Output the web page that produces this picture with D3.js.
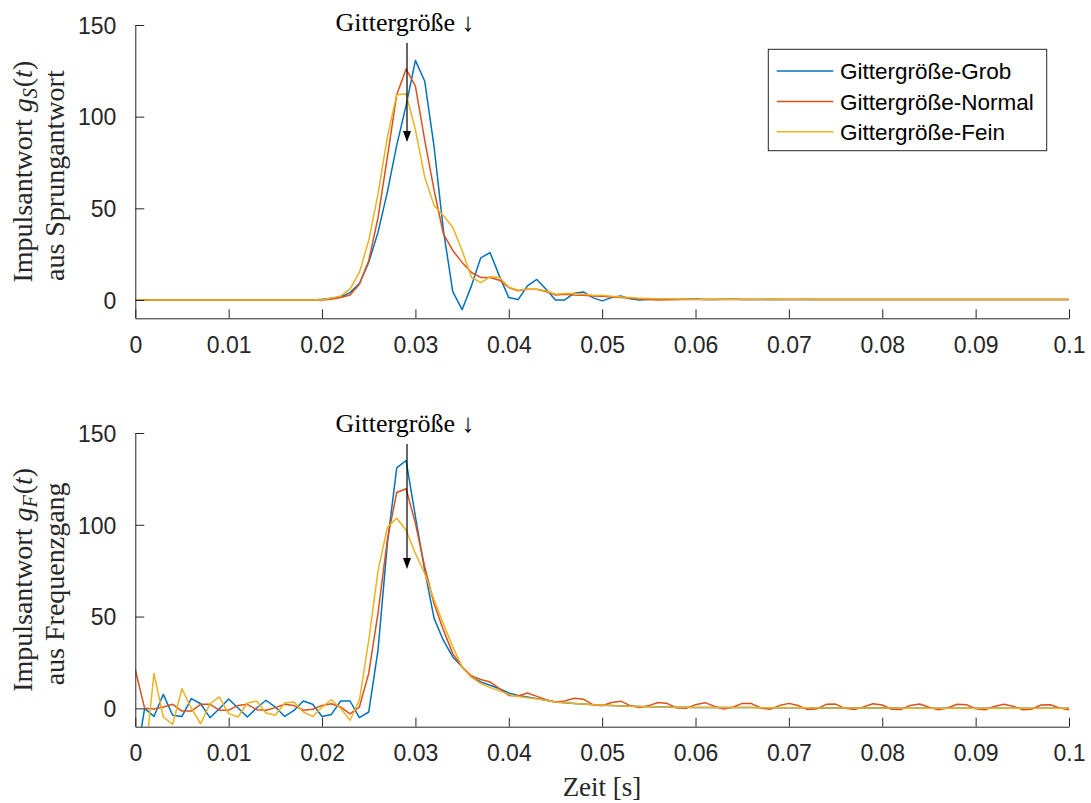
<!DOCTYPE html>
<html>
<head>
<meta charset="utf-8">
<script src="https://cdn.jsdelivr.net/npm/d3@7"></script>
<style>
  html, body { margin: 0; padding: 0; background: #fff; }
  svg { display: block; }
</style>
</head>
<body>
<svg id="chart" width="1091" height="803"></svg>
<script>
// ---------------- DATA ----------------
const seriesNames = ["Gittergröße-Grob", "Gittergröße-Normal", "Gittergröße-Fein"];
const xTickValues = [0, 0.01, 0.02, 0.03, 0.04, 0.05, 0.06, 0.07, 0.08, 0.09, 0.1];
const xTickLabels = ["0", "0.01", "0.02", "0.03", "0.04", "0.05", "0.06", "0.07", "0.08", "0.09", "0.1"];
const yTickValues = [0, 50, 100, 150];
const yTickLabels = ["0", "50", "100", "150"];
const time = d3.range(101).map(i => i / 1000);   // sample instants [s]

// Impulse response from step response (top)
const sprungGrob = [
  0,0,0,0,0,0,0,0,0,0, 0,0,0,0,0,0,0,0,0,0,
  0.4,1,1.6,4,9,20.5,37,59,84.5,106,
  130.7,119.3,83.6,38,4.6,-5.3,7.7,23,25.8,13,
  1.3,0.2,7.7,11.2,5.9,0,0,3.7,4.4,1.3,
  -0.5,1.3,2.2,0.7,0,0.2,0.7,0.4,0.2,0.5,
  0.6,0.3,0.2,0.4,0.5,0.3,0.2,0.3,0.4,0.3,
  0.2,0.3,0.4,0.3,0.2,0.3,0.3,0.2,0.3,0.3,
  0.2,0.3,0.3,0.2,0.2,0.3,0.2,0.2,0.3,0.2,
  0.2,0.2,0.3,0.2,0.2,0.2,0.2,0.2,0.2,0.2,
  0.2
];
const sprungNormal = [
  0,0,0,0,0,0,0,0,0,0, 0,0,0,0,0,0,0,0,0,0,
  0,0.4,1.3,2.7,8.6,21.4,45,78,112,126,
  116.6,87,60,36,27,20.5,15,12.3,12.3,10.8,
  6.8,5,5.9,5.9,4.6,2.7,3.1,2.7,2.6,2.2,
  2.0,1.6,1.3,0.9,0.5,0.2,0,0.1,0.2,0.3,
  0.3,0.3,0.3,0.3,0.3,0.3,0.3,0.3,0.3,0.3,
  0.3,0.3,0.3,0.3,0.3,0.3,0.3,0.3,0.3,0.3,
  0.3,0.3,0.3,0.3,0.3,0.3,0.3,0.3,0.3,0.3,
  0.3,0.3,0.3,0.3,0.3,0.3,0.3,0.3,0.3,0.3,
  0.3
];
const sprungFein = [
  0,0,0,0,0,0,0,0,0,0, 0,0,0,0,0,0,0,0,0,0,
  0.2,1,2.2,5.9,15,32.4,58,89,112,112.5,
  92.8,67,51.6,46,39.7,27,12.3,9.5,12.6,12.3,
  7,5.3,5.9,5.9,5,3.1,3.5,3.5,3.1,2.6,
  2.6,2.0,1.6,1.3,1.0,0.8,0.7,0.6,0.5,0.5,
  0.4,0.4,0.4,0.4,0.4,0.4,0.4,0.4,0.4,0.4,
  0.4,0.4,0.4,0.3,0.3,0.3,0.3,0.3,0.3,0.3,
  0.3,0.3,0.3,0.3,0.3,0.3,0.3,0.3,0.3,0.3,
  0.3,0.3,0.3,0.3,0.3,0.3,0.3,0.3,0.3,0.3,
  0.3
];

// Impulse response from frequency response (bottom)
const freqGrob = [
  -31,0,-4.4,7.6,-3.8,-4.4,5.3,2.5,-5.1,-0.2,
  5.1,0.2,-4.7,0.2,4.4,0.7,-4.4,-1.1,4,2.2,
  -4.4,-3.3,4,4,-5.1,-2,32,90,131,135,
  104.5,75,49,37,28,22.6,17,14.4,12.6,10.7,
  8.4,7,6.2,5.3,4.4,3.5,3.0,2.6,2.3,2.0,
  1.7,1.5,1.3,1.1,1.0,0.9,0.8,0.7,0.6,0.6,
  0.5,0.5,0.5,0.4,0.4,0.4,0.4,0.3,0.3,0.3,
  0.3,0.3,0.3,0.2,0.2,0.2,0.2,0.2,0.2,0.2,
  0.2,0.2,0.1,0.1,0.1,0.1,0.1,0.1,0.1,0.1,
  0.1,0.1,0.1,0.1,0.1,0.1,0.1,0.1,0.1,0.1,
  0.1
];
const freqNormal = [
  21,0,-0.4,0.7,2.2,-1.5,-1.5,2.2,2.2,-1,
  -1,1.6,2.2,-0.7,-1,0.4,2.2,1.5,-1,-0.5,
  1.6,2.5,0.7,-3,0.7,19,52,92,117.6,119.6,
  100.8,77,57,42.6,29.8,22.6,17.7,15.7,14.4,10.7,
  7,6.7,8.4,6.5,4.7,3.5,4.0,5.5,5.0,2.0,
  1.4,3.2,3.9,1.5,0.4,1.5,3.2,2.6,0.2,0.0,
  2.0,3.1,1.2,-0.4,0.6,2.7,2.6,0.2,-0.5,1.5,
  2.7,1.5,-0.6,-0.3,2.2,2.3,0.0,-0.7,0.8,2.5,
  1.8,-0.5,-0.6,1.6,2.4,0.6,-0.8,0.2,2.2,2.0,
  -0.2,-0.8,1.0,2.2,1.2,-0.7,-0.5,1.8,2.0,0.2,
  -0.8
];
const freqFein = [
  -30,-30,19,-4.7,-8.7,10.7,0,-8.4,2.5,6.2,
  -2.9,-4.7,2.9,4,-2.5,-3.8,2.9,3.5,-2,-4.4,
  0.7,4.7,0,-6.5,4.4,37,75,98.6,103.6,97,
  84.4,73.5,59,46,33.5,22.6,17,13.5,11.3,9.5,
  7.6,6.5,5.8,5.1,4.4,3.5,3.0,2.6,2.3,2.0,
  1.7,1.5,1.3,1.1,1.0,0.9,0.8,0.7,0.6,0.6,
  0.5,0.5,0.5,0.4,0.4,0.4,0.4,0.3,0.3,0.3,
  0.3,0.3,0.3,0.2,0.2,0.2,0.2,0.2,0.2,0.2,
  0.2,0.2,0.1,0.1,0.1,0.1,0.1,0.1,0.1,0.1,
  0.1,0.1,0.1,0.1,0.1,0.1,0.1,0.1,0.1,0.1,
  0.1
];

const annotationText = "Gittergröße ↓";
const xLabelText = "Zeit [s]";

// ---------------- STYLE / LAYOUT ----------------
const colors = ["#0072BD", "#D95319", "#EDB120"];
const axisColor = "#262626";
const sansFont = "'Liberation Sans', Arial, Helvetica, sans-serif";
const serifFont = "'Liberation Serif', 'Times New Roman', serif";

const svg = d3.select("#chart");
svg.append("rect").attr("width", 1091).attr("height", 803).attr("fill", "#fff");

const xRange = [135.3, 1069];
const panels = [
  { top: 25, bottom: 318.3, series: [sprungGrob, sprungNormal, sprungFein],
    label1: ["Impulsantwort ", "g", "S", "(", "t", ")"], label2: "aus Sprungantwort", legend: true,
    arrowTop: 43, arrowTip: 142, titleY: 31 },
  { top: 433, bottom: 726.7, series: [freqGrob, freqNormal, freqFein],
    label1: ["Impulsantwort ", "g", "F", "(", "t", ")"], label2: "aus Frequenzgang", legend: false,
    arrowTop: 444, arrowTip: 569, titleY: 432 }
];

const x = d3.scaleLinear().domain([0, 0.1]).range(xRange);

panels.forEach((p, pi) => {
  const y = d3.scaleLinear().domain([-10, 150]).range([p.bottom, p.top]);
  const g = svg.append("g");

  const clipId = "clip" + pi;
  svg.append("clipPath").attr("id", clipId)
    .append("rect").attr("x", xRange[0]).attr("y", p.top)
    .attr("width", xRange[1] - xRange[0]).attr("height", p.bottom - p.top);

  // lines
  const line = d3.line().x((d, i) => x(time[i])).y(d => y(d));
  const lg = g.append("g").attr("clip-path", `url(#${clipId})`);
  p.series.forEach((s, si) => {
    lg.append("path").datum(s)
      .attr("fill", "none").attr("stroke", colors[si])
      .attr("stroke-width", 1.5).attr("stroke-linejoin", "round")
      .attr("d", line);
  });

  // x axis
  const xAxis = d3.axisBottom(x).tickValues(xTickValues)
    .tickFormat((d, i) => xTickLabels[i]).tickSizeInner(-9).tickSizeOuter(0).tickPadding(18);
  const xg = g.append("g").attr("transform", `translate(0,${p.bottom})`).call(xAxis);
  // y axis
  const yAxis = d3.axisLeft(y).tickValues(yTickValues)
    .tickFormat((d, i) => yTickLabels[i]).tickSizeInner(-9).tickSizeOuter(0).tickPadding(19);
  const yg = g.append("g").attr("transform", `translate(${xRange[0]},0)`).call(yAxis);

  [xg, yg].forEach(ax => {
    ax.select(".domain").attr("stroke", axisColor).attr("stroke-width", 1);
    ax.selectAll(".tick line").attr("stroke", axisColor).attr("stroke-width", 1);
    ax.selectAll(".tick text").attr("fill", axisColor)
      .style("font-family", sansFont).style("font-size", "23px");
  });
  yg.selectAll(".tick text").attr("dy", "0.36em");
  xg.selectAll(".tick text").attr("dy", "0.71em");

  // y labels (two lines, rotated)
  const cy = (p.top + p.bottom) / 2;
  const t1 = svg.append("text")
    .attr("transform", `translate(32,${cy}) rotate(-90)`)
    .attr("text-anchor", "middle")
    .style("font-family", serifFont).style("font-size", "28px").attr("fill", axisColor);
  t1.append("tspan").text(p.label1[0]);
  t1.append("tspan").style("font-style", "italic").text(p.label1[1]);
  t1.append("tspan").style("font-style", "italic").style("font-size", "20px")
    .attr("dy", 5).text(p.label1[2]);
  t1.append("tspan").attr("dy", -5).attr("dx", 1).text(p.label1[3]);
  t1.append("tspan").style("font-style", "italic").text(p.label1[4]);
  t1.append("tspan").text(p.label1[5]);

  svg.append("text")
    .attr("transform", `translate(64,${cy + 4}) rotate(-90)`)
    .attr("text-anchor", "middle")
    .style("font-family", serifFont).style("font-size", "28px").attr("fill", axisColor)
    .text(p.label2);

  // annotation text + arrow
  const ax0 = x(0.0291);
  svg.append("text").attr("x", ax0 - 2).attr("y", p.titleY)
    .attr("text-anchor", "middle")
    .style("font-family", serifFont).style("font-size", "26px").attr("fill", "#000")
    .text(annotationText);
  svg.append("line").attr("x1", ax0).attr("x2", ax0)
    .attr("y1", p.arrowTop).attr("y2", p.arrowTip - 10)
    .attr("stroke", "#000").attr("stroke-width", 1.2);
  svg.append("path")
    .attr("d", `M${ax0 - 4},${p.arrowTip - 11} L${ax0 + 4},${p.arrowTip - 11} L${ax0},${p.arrowTip} Z`)
    .attr("fill", "#000");

  // legend
  if (p.legend) {
    const lgx = 768.3, lgy = 49.3, lgw = 278.4, lgh = 101.4;
    const leg = svg.append("g");
    leg.append("rect").attr("x", lgx).attr("y", lgy).attr("width", lgw).attr("height", lgh)
      .attr("fill", "#fff").attr("stroke", axisColor).attr("stroke-width", 1);
    const rowsY = [71, 101.5, 131.7];
    seriesNames.forEach((n, i) => {
      leg.append("line").attr("x1", 776.7).attr("x2", 833.3)
        .attr("y1", rowsY[i]).attr("y2", rowsY[i])
        .attr("stroke", colors[i]).attr("stroke-width", 1.5);
      leg.append("text").attr("x", 840).attr("y", rowsY[i]).attr("dy", "0.36em")
        .style("font-family", sansFont).style("font-size", "22.5px").attr("fill", "#000")
        .text(n);
    });
  }
});

// x label
svg.append("text").attr("x", 602).attr("y", 796)
  .attr("text-anchor", "middle")
  .style("font-family", serifFont).style("font-size", "27px").attr("fill", axisColor)
  .text(xLabelText);
</script>
</body>
</html>
